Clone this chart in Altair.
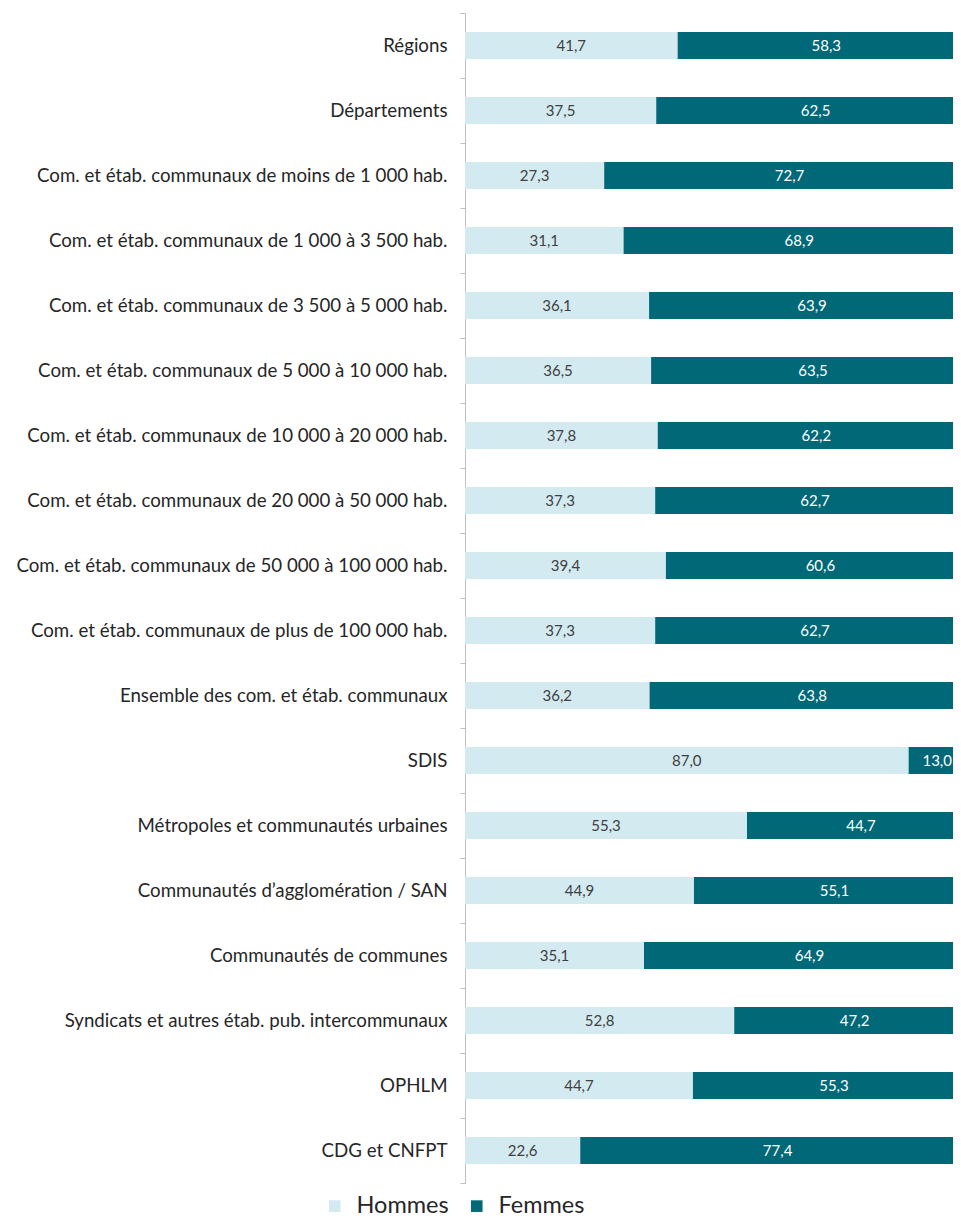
import altair as alt
import pandas as pd

categories = [
    "Régions",
    "Départements",
    "Com. et étab. communaux de moins de 1 000 hab.",
    "Com. et étab. communaux de 1 000 à 3 500 hab.",
    "Com. et étab. communaux de 3 500 à 5 000 hab.",
    "Com. et étab. communaux de 5 000 à 10 000 hab.",
    "Com. et étab. communaux de 10 000 à 20 000 hab.",
    "Com. et étab. communaux de 20 000 à 50 000 hab.",
    "Com. et étab. communaux de 50 000 à 100 000 hab.",
    "Com. et étab. communaux de plus de 100 000 hab.",
    "Ensemble des com. et étab. communaux",
    "SDIS",
    "Métropoles et communautés urbaines",
    "Communautés d’agglomération / SAN",
    "Communautés de communes",
    "Syndicats et autres étab. pub. intercommunaux",
    "OPHLM",
    "CDG et CNFPT",
]
hommes = [41.7, 37.5, 27.3, 31.1, 36.1, 36.5, 37.8, 37.3, 39.4, 37.3, 36.2, 87.0, 55.3, 44.9, 35.1, 52.8, 44.7, 22.6]
femmes = [58.3, 62.5, 72.7, 68.9, 63.9, 63.5, 62.2, 62.7, 60.6, 62.7, 63.8, 13.0, 44.7, 55.1, 64.9, 47.2, 55.3, 77.4]
series = ["Hommes", "Femmes"]
colors = ["#D3EAF1", "#006877"]


def fmt(v):
    return f"{v:.1f}".replace(".", ",")


rows = []
for c, h, f in zip(categories, hommes, femmes):
    rows.append(dict(cat=c, sexe="Hommes", ord=0, start=0.0, end=h, mid=h / 2, label=fmt(h)))
    rows.append(dict(cat=c, sexe="Femmes", ord=1, start=h, end=h + f, mid=h + f / 2, label=fmt(f)))
df = pd.DataFrame(rows)

xscale = alt.Scale(domain=[0, 95.7], nice=False, zero=False)
yenc = alt.Y(
    "cat:N",
    sort=categories,
    scale=alt.Scale(paddingInner=0, paddingOuter=0),
    axis=alt.Axis(
        title=None,
        tickBand="extent",
        domainColor="#BFBFBF",
        tickColor="#BFBFBF",
        tickSize=5,
        labelFont="Lato",
        labelFontSize=18.7,
        labelColor="#262626",
        labelPadding=13,
        labelLimit=0,
    ),
)

bars = alt.Chart(df).mark_bar(height=alt.RelativeBandSize(0.415), clip=True).encode(
    x=alt.X("start:Q", scale=xscale, axis=None),
    x2="end:Q",
    y=yenc,
    color=alt.Color(
        "sexe:N",
        scale=alt.Scale(domain=series, range=colors),
        legend=alt.Legend(
            title=None,
            orient="none",
            legendX=-142,
            legendY=1181,
            direction="horizontal",
            symbolType="square",
            symbolSize=135,
            symbolStrokeWidth=0,
            labelFont="Lato",
            labelFontSize=23.5,
            labelColor="#262626",
            labelOffset=10,
            columnPadding=16,
            padding=0,
        ),
    ),
    order=alt.Order("ord:Q"),
)

texts = (
    alt.Chart(df)
    .transform_calculate(xpos="min(datum.mid, 92.6)")
    .mark_text(font="Lato", fontSize=15)
    .encode(
        x=alt.X("xpos:Q", scale=xscale, axis=None),
        y=alt.Y("cat:N", sort=categories),
        text="label:N",
        color=alt.condition(alt.datum.sexe == "Hommes", alt.value("#404040"), alt.value("#FFFFFF")),
    )
)

chart = (
    alt.layer(bars, texts)
    .properties(
        width=488,
        height=1170,
        autosize=alt.AutoSizeParams(type="none"),
        padding={"left": 457, "right": 0, "top": 5, "bottom": 40},
    )
    .configure_view(stroke=None)
)

chart.save("out.html", embed_options={"renderer": "svg", "actions": False})
